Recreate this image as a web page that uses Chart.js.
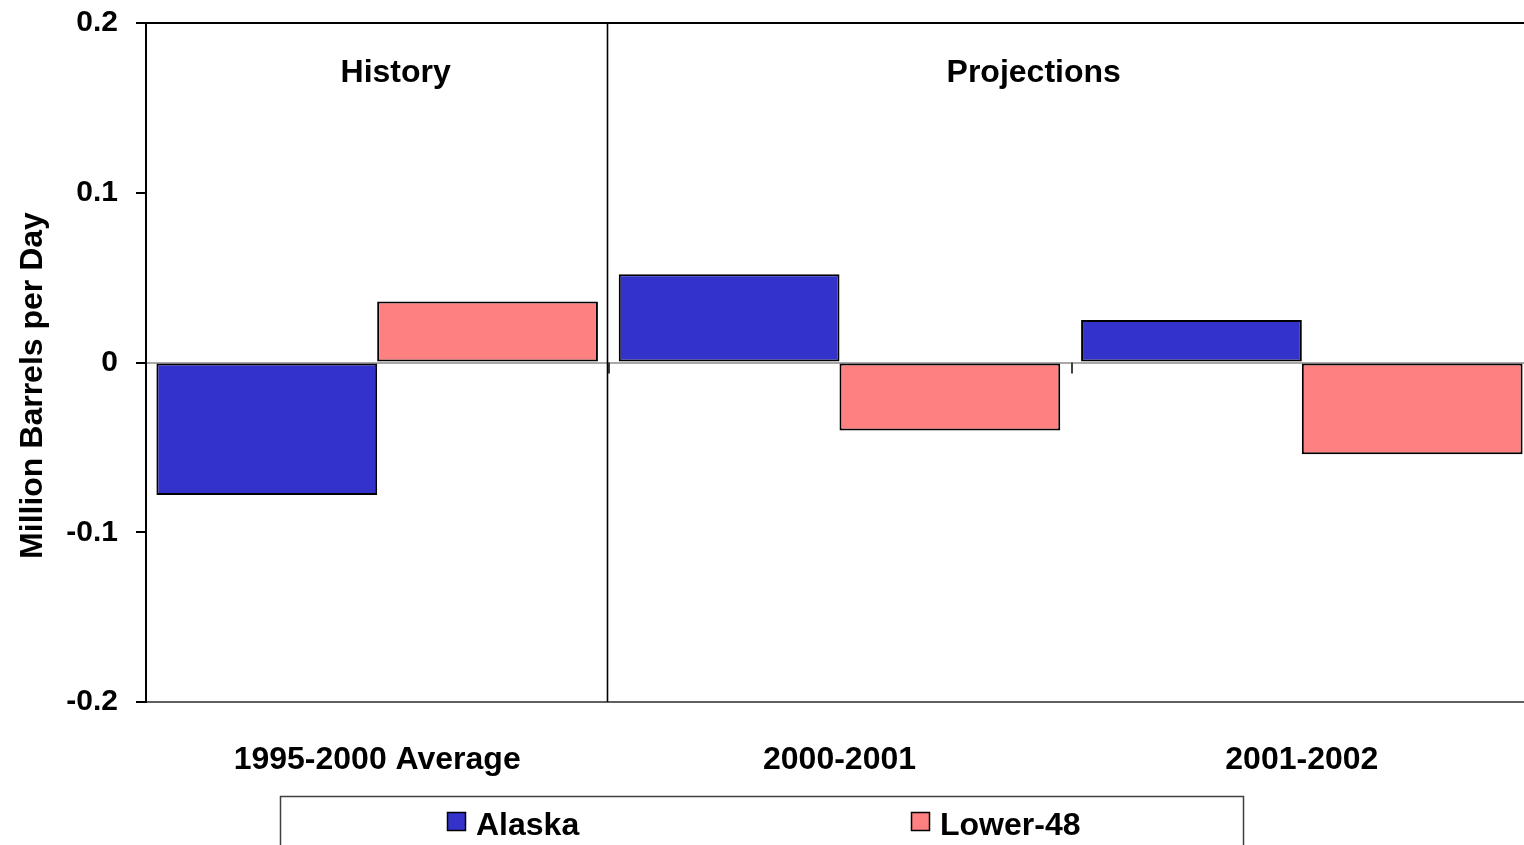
<!DOCTYPE html>
<html>
<head>
<meta charset="utf-8">
<title>Oil production change: Alaska vs Lower-48</title>
<script src="https://cdn.jsdelivr.net/npm/chart.js@4/dist/chart.umd.min.js"></script>
<style>
  html, body { margin: 0; padding: 0; background: #fff; overflow: hidden; }
  #wrap { width: 1540px; height: 845px; position: relative; }
  canvas { display: block; }
</style>
</head>
<body>
<div id="wrap"><canvas id="chart" width="1540" height="845"></canvas></div>
<script>
// Annual change in crude oil production, million barrels per day
const categories = ['1995-2000 Average', '2000-2001', '2001-2002'];
const alaskaValues = [-0.078, 0.052, 0.025];
const lower48Values = [0.036, -0.040, -0.054];
const seriesNames = ['Alaska', 'Lower-48'];
const seriesColors = ['#3333CC', '#FF8080'];
const yTickValues = [-0.2, -0.1, 0, 0.1, 0.2];
const yTickLabels = ['-0.2', '-0.1', '0', '0.1', '0.2'];
const periodLabels = ['History', 'Projections'];
const yAxisTitle = 'Million Barrels per Day';

const FONT = "'Liberation Sans', Arial, Helvetica, sans-serif";
Chart.defaults.font.family = FONT;
Chart.defaults.color = '#000';

// Period captions, divider between history and projections, zero-line ticks,
// rotated axis title and the boxed legend.
const decorations = {
  id: 'decorations',
  afterDraw(chart, args, opts) {
    const { ctx, chartArea: a, scales: { x, y } } = chart;
    const catW = (a.right - a.left) / categories.length;
    const zeroY = y.getPixelForValue(0);
    ctx.save();

    // small ticks hanging from the zero line at category boundaries
    ctx.strokeStyle = '#404040';
    ctx.lineWidth = 2;
    for (let i = 1; i < categories.length; i++) {
      const bx = Math.round(a.left + i * catW) + 1;
      ctx.beginPath();
      ctx.moveTo(bx, zeroY);
      ctx.lineTo(bx, zeroY + 11);
      ctx.stroke();
    }

    // divider between history and projections
    const divX = Math.round(a.left + catW) - 0.5;
    ctx.strokeStyle = '#000';
    ctx.lineWidth = 1.6;
    ctx.beginPath();
    ctx.moveTo(divX, a.top);
    ctx.lineTo(divX, a.bottom);
    ctx.stroke();

    // period captions
    ctx.fillStyle = '#000';
    ctx.font = 'bold 32px ' + FONT;
    ctx.textAlign = 'center';
    ctx.textBaseline = 'alphabetic';
    periodLabels.forEach((t, i) => {
      const cx = a.left + (opts.periodCenters[i] + 0.5) * catW;
      ctx.fillText(t, cx, a.top + opts.periodBaseline);
    });

    // y axis title
    ctx.save();
    ctx.translate(opts.titleX, (a.top + a.bottom) / 2 + opts.titleShift);
    ctx.rotate(-Math.PI / 2);
    ctx.textAlign = 'center';
    ctx.textBaseline = 'middle';
    ctx.font = 'bold 32px ' + FONT;
    ctx.fillText(yAxisTitle, 0, 0);
    ctx.restore();

    // legend box
    const lg = opts.legend;
    ctx.fillStyle = '#fff';
    ctx.fillRect(lg.left, lg.top, lg.width, lg.height);
    ctx.strokeStyle = '#404040';
    ctx.lineWidth = 1.5;
    ctx.strokeRect(lg.left + 0.5, lg.top + 0.5, lg.width, lg.height);
    chart.data.datasets.forEach((ds, i) => {
      const sx = lg.left + lg.itemX[i];
      const sy = lg.top + lg.swatchTop;
      ctx.fillStyle = ds.backgroundColor;
      ctx.fillRect(sx, sy, lg.swatch, lg.swatch);
      ctx.strokeStyle = '#000';
      ctx.lineWidth = 1.5;
      ctx.strokeRect(sx + 0.5, sy + 0.5, lg.swatch - 1, lg.swatch - 1);
      ctx.fillStyle = '#000';
      ctx.font = 'bold 32px ' + FONT;
      ctx.textAlign = 'left';
      ctx.textBaseline = 'alphabetic';
      ctx.fillText(ds.label, sx + lg.swatch + 10, lg.top + lg.textBaseline);
    });

    ctx.restore();
  }
};

new Chart(document.getElementById('chart'), {
  type: 'bar',
  data: {
    labels: categories,
    datasets: [
      {
        label: seriesNames[0],
        data: alaskaValues,
        backgroundColor: seriesColors[0],
        borderColor: '#000',
        borderWidth: 2,
        borderSkipped: false,
        categoryPercentage: 0.955,
        barPercentage: 1.0
      },
      {
        label: seriesNames[1],
        data: lower48Values,
        backgroundColor: seriesColors[1],
        borderColor: '#000',
        borderWidth: 2,
        borderSkipped: false,
        categoryPercentage: 0.955,
        barPercentage: 1.0
      }
    ]
  },
  options: {
    responsive: false,
    animation: false,
    devicePixelRatio: 1,
    layout: { padding: { top: 23, right: 7, bottom: 0, left: 0 } },
    plugins: {
      legend: { display: false },
      tooltip: { enabled: false },
      decorations: {
        periodCenters: [0.04, 1.42],
        periodBaseline: 59,
        titleX: 33,
        titleShift: 23,
        legend: {
          left: 280, top: 796, width: 963, height: 80,
          itemX: [167, 631], swatch: 19, swatchTop: 16, textBaseline: 39
        }
      }
    },
    scales: {
      x: {
        offset: true,
        grid: { display: false, drawTicks: false },
        border: { display: false },
        ticks: {
          font: { size: 32, weight: 'bold' },
          color: '#000',
          padding: 39,
          maxRotation: 0,
          autoSkip: false
        },
        afterFit(scale) { scale.height = 143; }
      },
      y: {
        min: -0.2,
        max: 0.2,
        afterBuildTicks(scale) {
          scale.ticks = yTickValues.map(v => ({ value: v }));
        },
        ticks: {
          font: { size: 30, weight: 'bold' },
          color: '#000',
          padding: 18,
          callback(value) {
            const i = yTickValues.findIndex(v => Math.abs(v - value) < 1e-9);
            return i >= 0 ? yTickLabels[i] : '';
          }
        },
        grid: {
          drawOnChartArea: true,
          tickLength: 10,
          tickColor: '#000',
          lineWidth: 2,
          color(ctx) {
            const v = ctx.tick ? ctx.tick.value : null;
            if (v === 0.2) return '#000';
            if (v === -0.2) return '#606060';
            if (v === 0) return '#a8a8a8';
            return 'rgba(0,0,0,0)';
          }
        },
        border: { display: true, color: '#000', width: 2 },
        afterFit(scale) {
          scale.width = 146;
          scale.paddingTop = 0;
          scale.paddingBottom = 0;
        }
      }
    }
  },
  plugins: [decorations]
});
</script>
</body>
</html>
